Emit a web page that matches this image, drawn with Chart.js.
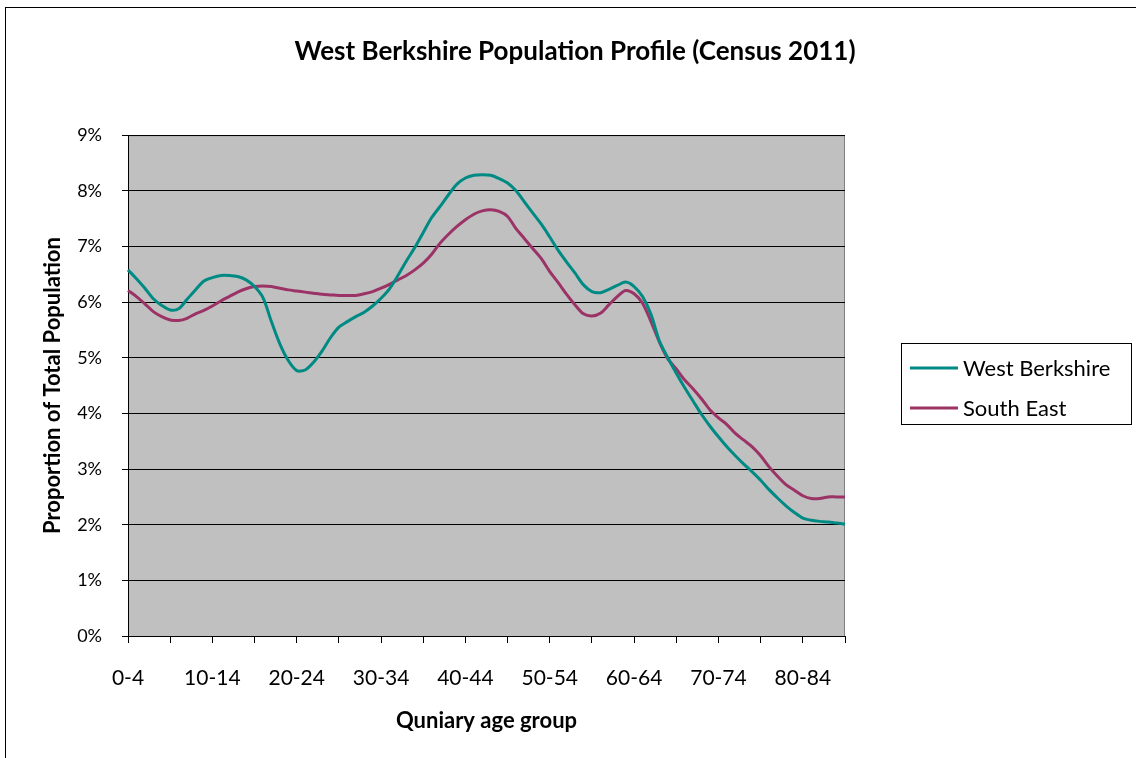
<!DOCTYPE html>
<html>
<head>
<meta charset="utf-8">
<script src="https://cdn.jsdelivr.net/npm/chart.js@4/dist/chart.umd.min.js"></script>
<style>
  body { margin: 0; background: #fff; }
  #wrap { position: relative; width: 1136px; height: 758px; overflow: hidden; }
  #frame { position: absolute; left: 5px; top: 7px; width: 1200px; height: 800px;
           border-left: 1px solid #000; border-top: 1px solid #000; }
  canvas { position: absolute; left: 0; top: 0; }
</style>
</head>
<body>
<div id="wrap">
  <div id="frame"></div>
  <canvas id="popChart" width="1136" height="758"></canvas>
</div>
<script>
// rolling quinary age groups 0-4, 1-5, ... 85-89
const ageStarts = [];
for (let a = 0; a <= 85; a++) ageStarts.push(a);
const ageGroups = ageStarts.map(a => a + '-' + (a + 4));

// proportion of total population (%)
const westBerkshire = [
  6.58, 6.42, 6.25, 6.06, 5.94, 5.86, 5.88, 6.05, 6.22, 6.38,
  6.44, 6.48, 6.48, 6.46, 6.40, 6.28, 6.08, 5.65, 5.25, 4.95,
  4.77, 4.78, 4.92, 5.12, 5.36, 5.55, 5.65, 5.74, 5.82, 5.93,
  6.07, 6.24, 6.48, 6.74, 6.98, 7.25, 7.52, 7.72, 7.93, 8.12,
  8.23, 8.28, 8.29, 8.28, 8.22, 8.14, 8.00, 7.80, 7.60, 7.40,
  7.17, 6.93, 6.72, 6.52, 6.31, 6.19, 6.17, 6.23, 6.30, 6.36,
  6.28, 6.10, 5.78, 5.30, 5.00, 4.72, 4.46, 4.22, 3.98, 3.77,
  3.58, 3.40, 3.24, 3.09, 2.95, 2.80, 2.63, 2.48, 2.34, 2.22,
  2.12, 2.08, 2.06, 2.05, 2.03, 2.01
];
const southEast = [
  6.21, 6.10, 5.97, 5.83, 5.74, 5.68, 5.67, 5.71, 5.79, 5.85,
  5.93, 6.02, 6.10, 6.18, 6.24, 6.28, 6.29, 6.28, 6.25, 6.22,
  6.20, 6.18, 6.16, 6.14, 6.13, 6.12, 6.12, 6.12, 6.15, 6.19,
  6.25, 6.32, 6.40, 6.48, 6.58, 6.70, 6.86, 7.06, 7.22, 7.36,
  7.48, 7.58, 7.64, 7.66, 7.63, 7.54, 7.32, 7.14, 6.96, 6.78,
  6.55, 6.35, 6.14, 5.95, 5.79, 5.75, 5.80, 5.95, 6.10, 6.21,
  6.15, 5.98, 5.65, 5.28, 4.98, 4.80, 4.60, 4.44, 4.26, 4.06,
  3.92, 3.80, 3.64, 3.52, 3.40, 3.24, 3.04, 2.87, 2.72, 2.62,
  2.52, 2.47, 2.47, 2.50, 2.50, 2.50
];
const yTicks = [0, 1, 2, 3, 4, 5, 6, 7, 8, 9];

const FONT = 'Lato, "Open Sans", sans-serif';

// grey plot area with border
const plotBg = {
  id: 'plotBg',
  afterLayout(chart) {
    // centre the title on the chart frame, not just the plot side
    const t = chart.titleBlock;
    if (t) { t.left = 14; t.right = chart.width; t.width = chart.width - 14; }
  },
  beforeDraw(chart) {
    const { ctx, chartArea: a } = chart;
    ctx.save();
    ctx.fillStyle = '#C0C0C0';
    ctx.fillRect(a.left, a.top, a.right - a.left, a.bottom - a.top);
    ctx.strokeStyle = '#808080';
    ctx.lineWidth = 1;
    ctx.strokeRect(a.left + 0.5, a.top + 0.5, a.right - a.left - 1, a.bottom - a.top);
    ctx.restore();
  }
};

// boxed legend on the right like Excel
const boxLegend = {
  id: 'boxLegend',
  afterDraw(chart) {
    const ctx = chart.ctx;
    const x = 901, y = 343, w = 230, h = 81;
    ctx.save();
    ctx.strokeStyle = '#000';
    ctx.lineWidth = 1;
    ctx.strokeRect(x + 0.5, y + 0.5, w, h);
    ctx.font = '22px ' + FONT;
    ctx.textBaseline = 'middle';
    ctx.fillStyle = '#000';
    chart.data.datasets.forEach((ds, i) => {
      const ly = y + 25 + i * 40;
      ctx.strokeStyle = ds.borderColor;
      ctx.lineWidth = 3;
      ctx.beginPath();
      ctx.moveTo(910, ly);
      ctx.lineTo(958, ly);
      ctx.stroke();
      ctx.fillText(ds.label, 963, ly + 1);
    });
    ctx.restore();
  }
};

const ctx = document.getElementById('popChart').getContext('2d');
const chart = new Chart(ctx, {
  type: 'line',
  data: {
    labels: ageGroups,
    datasets: [{
      label: 'West Berkshire',
      data: westBerkshire,
      borderColor: '#008A84',
      backgroundColor: '#008A84',
      borderWidth: 3,
      pointRadius: 0,
      tension: 0.3
    }, {
      label: 'South East',
      data: southEast,
      borderColor: '#9C3366',
      backgroundColor: '#9C3366',
      borderWidth: 3,
      pointRadius: 0,
      tension: 0.3
    }]
  },
  options: {
    responsive: false,
    animation: false,
    layout: { padding: { left: 0, right: 291, top: 0, bottom: 0 } },
    plugins: {
      legend: { display: false },
      tooltip: { enabled: false },
      title: {
        display: true,
        text: 'West Berkshire Population Profile (Census 2011)',
        color: '#000',
        font: { family: FONT, size: 26, weight: 'bold' },
        padding: { top: 36, bottom: 68 }
      }
    },
    scales: {
      x: {
        offset: false,
        afterFit(scale) { scale.height = 122; },
        border: { color: '#000', width: 1 },
        grid: {
          drawOnChartArea: false,
          tickLength: 7,
          tickColor: c => (c.index % 5 === 0 ? '#000' : 'rgba(0,0,0,0)')
        },
        ticks: {
          autoSkip: false,
          maxRotation: 0,
          minRotation: 0,
          padding: 23,
          color: '#000',
          font: { family: FONT, size: 21 },
          callback: function(val, i) { return i % 10 === 0 ? this.getLabelForValue(val) : ''; }
        },
        title: {
          display: true,
          text: 'Quniary age group',
          color: '#000',
          font: { family: FONT, size: 22, weight: 'bold' },
          padding: { top: 0, bottom: 24 }
        }
      },
      y: {
        min: 0,
        max: 9,
        afterFit(scale) { scale.width = 128; },
        afterBuildTicks(scale) { scale.ticks = yTicks.map(v => ({ value: v })); },
        border: { color: '#000', width: 1 },
        grid: { color: '#000', lineWidth: 1, tickLength: 6, tickColor: '#000' },
        ticks: {
          padding: 20,
          color: '#000',
          font: { family: FONT, size: 18 },
          callback: v => v + '%'
        },
        title: {
          display: true,
          text: 'Proportion of Total Population',
          color: '#000',
          font: { family: FONT, size: 22, weight: 'bold' },
          padding: { top: 40, bottom: 0 }
        }
      }
    }
  },
  plugins: [plotBg, boxLegend]
});
</script>
</body>
</html>
